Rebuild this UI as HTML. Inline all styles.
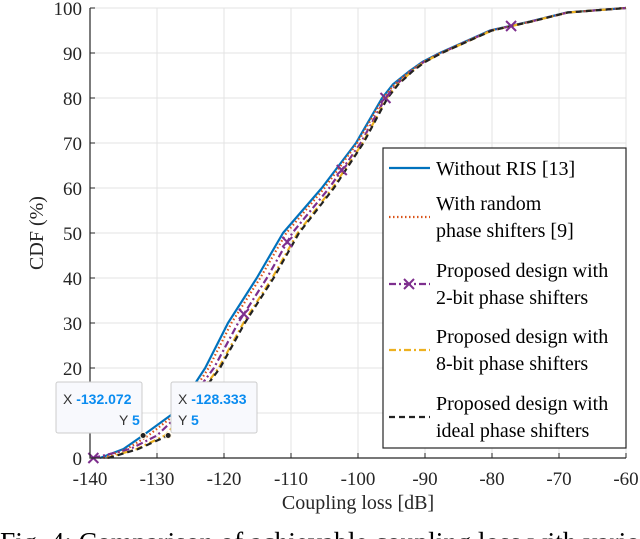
<!DOCTYPE html>
<html><head><meta charset="utf-8"><style>
html,body{margin:0;padding:0;background:#fff;width:640px;height:539px;overflow:hidden}
svg{display:block;font-family:"Liberation Serif",serif}
.tip{font-family:"Liberation Sans",sans-serif}
</style></head><body>
<svg id="chart" width="640" height="539" viewBox="0 0 640 539" xmlns="http://www.w3.org/2000/svg"></svg>
<script>
const xTicks=[-140,-130,-120,-110,-100,-90,-80,-70,-60];
const yTicks=[0,10,20,30,40,50,60,70,80,90,100];
const cdfLevels=[0,2,5,10,15,20,30,40,50,60,70,80,83,86,88,90,93,95,97,99,100];
const blueX  =[-138.5,-135,-132.1,-127.5,-125,-122.8,-119.4,-115.1,-111.2,-105.4,-100.3,-96.4,-94.8,-92.3,-90.4,-87.8,-83.3,-80.3,-74.3,-68.8,-60];
const redX   =[-138,-134.5,-131.3,-127,-124.5,-122.3,-118.9,-114.6,-110.7,-105.0,-100.1,-96.2,-94.6,-92.2,-90.3,-87.7,-83.2,-80.2,-74.2,-68.8,-60];
const purpleX=[-139.5,-134,-130,-126.5,-124,-121.5,-117.9,-113.6,-109.8,-104.3,-99.6,-95.9,-94.3,-92.0,-90.2,-87.6,-83.1,-80.1,-74.2,-68.7,-60];
const yellowX=[-137.5,-133,-128.8,-125.8,-123.3,-120.8,-117.1,-112.8,-109.0,-103.8,-99.3,-95.7,-94.1,-91.9,-90.1,-87.5,-83.0,-80.0,-74.1,-68.7,-60];
const blackX =[-137.3,-132.8,-128.3,-125.5,-123.1,-120.6,-116.9,-112.6,-108.8,-103.6,-99.2,-95.6,-94.0,-91.8,-90.0,-87.5,-83.0,-80.0,-74.1,-68.7,-60];
const markerLevels=[0,32,48,64,80,96];
const tipX=[-132.072,-128.333];
const tipY=[5,5];

const NS="http://www.w3.org/2000/svg";
const svg=document.getElementById('chart');
const X0=90,X1=626,Y0=458,Y1=8;
const sx=v=>X0+(v+140)/80*(X1-X0);
const sy=v=>Y0-v/100*(Y0-Y1);
function mk(tag,attrs,parent){const e=document.createElementNS(NS,tag);for(const k in attrs)e.setAttribute(k,attrs[k]);(parent||svg).appendChild(e);return e;}
function interp(xs,lv){for(let i=0;i<cdfLevels.length-1;i++){if(lv>=cdfLevels[i]&&lv<=cdfLevels[i+1]){const t=(lv-cdfLevels[i])/(cdfLevels[i+1]-cdfLevels[i]);return xs[i]+t*(xs[i+1]-xs[i]);}}return xs[xs.length-1];}

xTicks.forEach(v=>{const l=mk('line',{x1:sx(v),x2:sx(v),y1:Y1,y2:Y0,stroke:'#e3e3e3','stroke-width':1});

});
yTicks.forEach(v=>{const l=mk('line',{x1:X0,x2:X1,y1:sy(v),y2:sy(v),stroke:'#e3e3e3','stroke-width':1});

});

const series=[
 {name:'series-without-ris',xs:blueX,color:'#0072bd',dash:'',w:2.2},
 {name:'series-random-phase',xs:redX,color:'#d95319',dash:'1.5 2.5',w:2.2},
 {name:'series-2bit',xs:purpleX,color:'#7e2f8e',dash:'7 3 2 3',w:2.2},
 {name:'series-8bit',xs:yellowX,color:'#edb120',dash:'7 3 2 3',w:2.2},
 {name:'series-ideal',xs:blackX,color:'#222',dash:'6 4',w:2.2}
];
series.forEach(s=>{
 const pts=s.xs.map((x,i)=>sx(x).toFixed(1)+','+sy(cdfLevels[i]).toFixed(1)).join(' ');
 const p=mk('polyline',{points:pts,fill:'none',stroke:s.color,'stroke-width':s.w,'stroke-dasharray':s.dash,'stroke-linejoin':'round'});
 
 
});
markerLevels.forEach(lv=>{
 const cx=sx(interp(purpleX,lv)),cy=sy(lv);
 const g=mk('path',{d:`M${cx-5},${cy-5}L${cx+5},${cy+5}M${cx-5},${cy+5}L${cx+5},${cy-5}`,stroke:'#7e2f8e','stroke-width':2});
 
 
});

const ax=mk('path',{d:`M${X0},${Y1}V${Y0}H${X1}`,fill:'none',stroke:'#262626','stroke-width':1.2});


xTicks.forEach(v=>{
 mk('line',{x1:sx(v),x2:sx(v),y1:Y0,y2:Y0-5,stroke:'#262626'});
 const t=mk('text',{x:sx(v),y:Y0+27,'text-anchor':'middle','font-size':19,fill:'#262626'});t.textContent=v;
 
 
});
yTicks.forEach(v=>{
 mk('line',{x1:X0,x2:X0+5,y1:sy(v),y2:sy(v),stroke:'#262626'});
 const t=mk('text',{x:X0-8,y:sy(v)+7,'text-anchor':'end','font-size':19,fill:'#262626'});t.textContent=v;
 
 
});
let t=mk('text',{x:358,y:509,'text-anchor':'middle','font-size':20,fill:'#262626'});t.textContent='Coupling loss [dB]';


t=mk('text',{x:0,y:0,transform:'translate(43,233) rotate(-90)','text-anchor':'middle','font-size':20,fill:'#262626'});t.textContent='CDF (%)';



const lg=mk('g',{});


mk('rect',{x:383,y:148,width:243,height:300,fill:'#fff',stroke:'#262626','stroke-width':1.2},lg);
const entries=[
 {lines:['Without RIS [13]'],y:168,s:0},
 {lines:['With random','phase shifters [9]'],y:203,s:1},
 {lines:['Proposed design with','2-bit phase shifters'],y:270,s:2},
 {lines:['Proposed design with','8-bit phase shifters'],y:336,s:3},
 {lines:['Proposed design with','ideal phase shifters'],y:403,s:4}
];
entries.forEach(e=>{
 const s=series[e.s];
 const ly=e.lines.length>1?e.y+14:e.y;
 const l=mk('line',{x1:389,x2:430,y1:ly,y2:ly,stroke:s.color,'stroke-width':2.2,'stroke-dasharray':s.dash},lg);
 
 
 if(e.s===2){mk('path',{d:`M404,${ly-5}L414,${ly+5}M404,${ly+5}L414,${ly-5}`,stroke:s.color,'stroke-width':2},lg);}
 e.lines.forEach((tx,i)=>{
  const tt=mk('text',{x:436,y:e.y+7+i*27,'font-size':20,fill:'#000'},lg);tt.textContent=tx;
  
  
 });
});

const tipBox=[{x:56,y:382},{x:171,y:382}];
tipX.forEach((xv,i)=>{
 const g=mk('g',{class:'tip'});
 
 
 const b=tipBox[i];
 mk('rect',{x:b.x,y:b.y,width:86,height:51,rx:2,fill:'#f8f9fd',stroke:'#ccc'},g);
 let a=mk('text',{x:b.x+7,y:b.y+22,'font-size':14,fill:'#333'},g);a.textContent='X ';
 let v=mk('tspan',{fill:'#0a8cf0','font-weight':'bold'},a);v.textContent=xv.toFixed(3);
 let c=mk('text',{x:b.x+(i===0?63:7),y:b.y+43,'font-size':14,fill:'#333'},g);c.textContent='Y ';
 let w=mk('tspan',{fill:'#0a8cf0','font-weight':'bold'},c);w.textContent=tipY[i];
 mk('circle',{cx:sx(xv),cy:sy(tipY[i]),r:3,fill:'#222',stroke:'#fff5e0','stroke-width':1},g);
});

t=mk('text',{x:0,y:551,'font-size':27,fill:'#000',textLength:640,lengthAdjust:'spacingAndGlyphs'});t.textContent='Fig. 4: Comparison of achievable coupling loss with vario';


</script>
</body></html>
